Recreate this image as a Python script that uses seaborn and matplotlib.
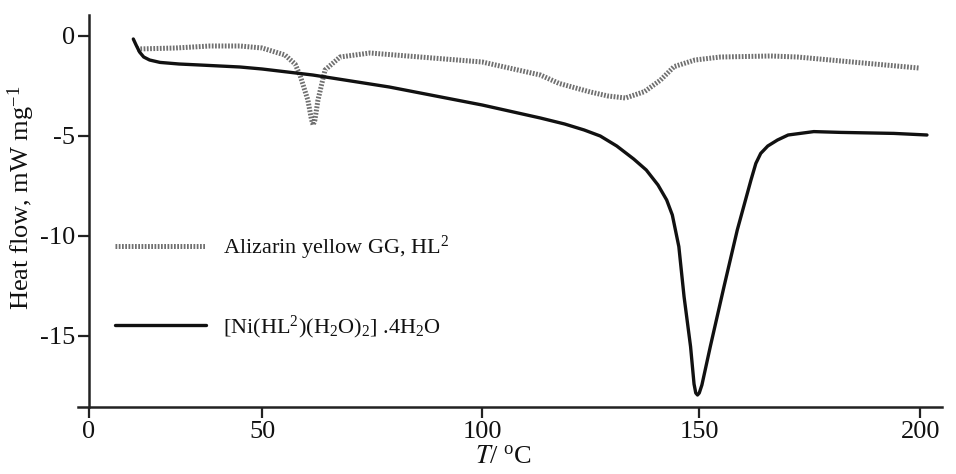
import numpy as np
import matplotlib
matplotlib.use("Agg")
import matplotlib.pyplot as plt
import seaborn as sns

# ---- data ----
t_dye = [13.9, 25, 35, 43.6, 50, 55.2, 57.5, 58.6, 60.4, 61.2, 61.6, 62.0, 62.7, 64.3, 67.7, 74.5,
         85.9, 100, 113.4, 117.7, 124.9, 129, 133, 137.4, 141.1, 144.2, 149, 154.8, 166.2,
         172.2, 184.6, 199.6]
h_dye = [-0.65, -0.6, -0.5, -0.5, -0.6, -0.95, -1.4, -1.95, -3.2, -4.15, -4.45, -4.2, -3.2, -1.7, -1.05, -0.85,
         -1.05, -1.3, -1.95, -2.37, -2.8, -3.0, -3.1, -2.78, -2.2, -1.53, -1.2, -1.05, -1.0,
         -1.05, -1.3, -1.6]

t_ni = [12.8, 13.6, 14.6, 15.8, 17.5, 20.5, 26, 32, 43.6, 50, 61.5, 78.9, 100, 113.4, 119, 123.5,
        127.2, 131, 134.9, 137.8, 140.5, 142.5, 143.8, 145.3, 146.5, 148.0, 148.8, 149.2, 149.6,
        150.0, 150.6, 152.5, 155.6, 158.6, 161.7, 162.8, 163.9, 165.5, 167.7, 170.1, 175.9, 182,
        194, 201.5]
h_ni = [-0.15, -0.45, -0.8, -1.05, -1.2, -1.32, -1.4, -1.45, -1.55, -1.65, -1.95, -2.55, -3.45,
        -4.1, -4.4, -4.7, -5.0, -5.5, -6.15, -6.7, -7.45, -8.2, -8.95, -10.53, -13.03, -15.53,
        -17.4, -17.85, -17.95, -17.85, -17.45, -15.53, -12.53, -9.7, -7.2, -6.37, -5.87, -5.5, -5.2,
        -4.95, -4.78, -4.82, -4.87, -4.95]

x_ticks = [0, 50, 100, 150, 200]
y_ticks = [0, -5, -10, -15]
label_dye = r"Alizarin yellow GG, HL$\mathregular{^2}$"
label_ni = r"[Ni(HL$\mathregular{^2}$)(H$\mathregular{_2}$O)$\mathregular{_2}$] .4H$\mathregular{_2}$O"

# ---- style ----
sns.set_style("ticks")
plt.rcParams["font.family"] = ["Liberation Serif", "DejaVu Serif"]
plt.rcParams["mathtext.fontset"] = "stix"

fig = plt.figure(figsize=(9.56, 4.74), dpi=100)
ax = fig.add_axes([78 / 956, 67 / 474, (942 - 78) / 956, (407 - 15) / 474])

# piecewise-linear temperature axis (the reference axis is not uniform)
_kx = np.array([-50.0, 0, 50, 100, 150, 200, 250])
_kp = np.array([-173.0, 0, 173, 393, 610, 831, 1052])


def _fwd(v):
    return np.interp(v, _kx, _kp)


def _inv(p):
    return np.interp(p, _kp, _kx)


ax.set_xscale("function", functions=(_fwd, _inv))

sns.lineplot(x=t_dye, y=h_dye, ax=ax, color="#707070", linewidth=3.6,
             linestyle=(0, (0.35, 0.3)), label=label_dye, estimator=None, sort=False)
sns.lineplot(x=t_ni, y=h_ni, ax=ax, color="#111111", linewidth=2.4,
             label=label_ni, estimator=None, sort=False)

ax.set_xlim(-3.18, 204.9)
ax.set_ylim(-18.55, 1.05)
ax.set_xticks(x_ticks)
ax.set_xticklabels([str(v) for v in x_ticks])
ax.set_yticks(y_ticks)
ax.set_yticklabels([str(v) for v in y_ticks])

for s in ["top", "right"]:
    ax.spines[s].set_visible(False)
ax.spines["left"].set_position(("data", 0))
for s in ["left", "bottom"]:
    ax.spines[s].set_linewidth(1.8)
    ax.spines[s].set_color("#222222")

ax.tick_params(axis="both", direction="out", length=8, width=1.6, color="#222222",
               labelsize=19, pad=2, labelcolor="#111111")

ax.set_xlabel(r"$\mathit{T}$/ $\mathregular{^o}$C", fontsize=19, color="#111111")
ax.set_ylabel(r"Heat flow, mW mg$\mathregular{^{-1}}$", fontsize=19, color="#111111")
ax.xaxis.set_label_coords(0.4925, -0.10)
ax.yaxis.set_label_coords(-0.048, 0.535)

leg = ax.legend(loc="center left", bbox_to_anchor=(115 / 956, 1 - 287.5 / 474),
                bbox_transform=fig.transFigure, frameon=False, fontsize=16,
                handlelength=4.1, handletextpad=0.75, labelspacing=2.3,
                borderpad=0, borderaxespad=0)
for txt in leg.get_texts():
    txt.set_color("#111111")

fig.savefig("out.png", dpi=100)
